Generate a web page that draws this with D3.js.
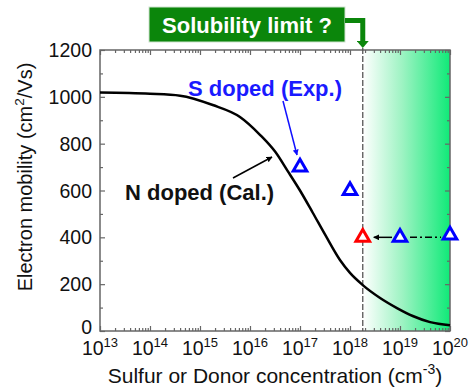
<!DOCTYPE html>
<html><head><meta charset="utf-8">
<script src="https://cdn.jsdelivr.net/npm/d3@7"></script>
<style>html,body{margin:0;padding:0;background:#fff}svg{display:block}text{font-family:"Liberation Sans",Arial,sans-serif}</style>
</head><body>
<svg id="c" width="474" height="389"></svg>
<script>
// Calculated N-doped mobility curve (concentration in cm^-3, mobility in cm2/Vs)
const curveConc = [1e13,1e14,4e14,1.8e15,6.3e15,1.6e16,3.2e16,5.6e16,1e17,1.8e17,3.2e17,6.3e17,1e18,1.8e18,4e18,8.7e18,1.8e19,4e19,1e20];
const curveMu   = [1018,1013,1005,965,914,837,765,685,600,505,410,303,248,196,141,98,64,38,25];
// Experimental S-doped points
const expConc  = [1e17, 1e18, 1e19, 1e20];
const expMu    = [700, 600, 400, 410];
// Corrected point at solubility limit
const redConc  = [1.8e18];
const redMu    = [400];
const solubilityLimit = 1.8e18;
const xTickExp = [13,14,15,16,17,18,19,20];
const yTicks   = [0,200,400,600,800,1000,1200];

const svg = d3.select("#c");
const L=100,R=450,T=50,B=331;
const x = d3.scaleLog().domain([1e13,1e20]).range([L,R]);
const y = d3.scaleLinear().domain([0,1200]).range([B,T]);

const defs = svg.append("defs");
const g = defs.append("linearGradient").attr("id","grn").attr("gradientUnits","userSpaceOnUse")
  .attr("x1",x(solubilityLimit)).attr("x2",R).attr("y1",0).attr("y2",0);
g.append("stop").attr("offset","0").attr("stop-color","#ffffff");
g.append("stop").attr("offset","0.45").attr("stop-color","#9ef3c3");
g.append("stop").attr("offset","1").attr("stop-color","#10ea78");
function mk(id,color){
  defs.append("marker").attr("id",id).attr("viewBox","0 0 10 10").attr("refX",9).attr("refY",5)
   .attr("markerWidth",6).attr("markerHeight",6).attr("orient","auto").attr("markerUnits","userSpaceOnUse")
   .append("path").attr("d","M0,0L10,5L0,10z").attr("fill",color);
}
mk("ab","#1010ff"); mk("ak","#000");
defs.append("marker").attr("id","ag").attr("viewBox","0 0 10 10").attr("refX",5).attr("refY",0)
   .attr("markerWidth",12).attr("markerHeight",7).attr("orient","0").attr("markerUnits","userSpaceOnUse").attr("preserveAspectRatio","none")
   .append("path").attr("d","M0,0L10,0L5,10z").attr("fill","#0b860b");

// green region
svg.append("rect").attr("x",x(solubilityLimit)).attr("y",T).attr("width",R-x(solubilityLimit)).attr("height",B-T).attr("fill","url(#grn)");

// axes
const axCol="#666";
const minorX=[]; for(let e=13;e<20;e++) for(let k=2;k<10;k++) minorX.push(k*Math.pow(10,e));
const minorY=d3.range(100,1200,200);
function drawAxis(axis, tr){ const a=svg.append("g").attr("transform",tr).call(axis); a.selectAll("text").remove(); a.select(".domain").remove(); a.selectAll("line").attr("stroke",axCol).attr("stroke-width",1.2); }
const maj = xTickExp.map(e=>Math.pow(10,e));
drawAxis(d3.axisBottom(x).tickValues(maj).tickSize(-5), `translate(0,${B})`);
drawAxis(d3.axisBottom(x).tickValues(minorX).tickSize(-3), `translate(0,${B})`);
drawAxis(d3.axisTop(x).tickValues(maj).tickSize(-5), `translate(0,${T})`);
drawAxis(d3.axisTop(x).tickValues(minorX).tickSize(-3), `translate(0,${T})`);
drawAxis(d3.axisLeft(y).tickValues(yTicks).tickSize(-5), `translate(${L},0)`);
drawAxis(d3.axisLeft(y).tickValues(minorY).tickSize(-3), `translate(${L},0)`);
drawAxis(d3.axisRight(y).tickValues(yTicks).tickSize(-5), `translate(${R},0)`);
drawAxis(d3.axisRight(y).tickValues(minorY).tickSize(-3), `translate(${R},0)`);
svg.append("rect").attr("x",L).attr("y",T).attr("width",R-L).attr("height",B-T).attr("fill","none").attr("stroke",axCol).attr("stroke-width",1.5);

// y tick labels
svg.append("g").selectAll("text").data(yTicks).join("text")
  .attr("x",L-8).attr("y",d=>d===0 ? y(d)+3 : y(d)+7).attr("text-anchor","end").attr("font-size",19.5).attr("fill","#111").text(d=>d);
// x tick labels
const xl = svg.append("g").selectAll("text").data(xTickExp).join("text")
  .attr("x",d=>x(Math.pow(10,d))).attr("y",355).attr("text-anchor","middle").attr("font-size",19.5).attr("fill","#111");
xl.append("tspan").text("10");
xl.append("tspan").attr("dy",-8).attr("font-size",13).text(d=>d);

// axis titles
const xt = svg.append("text").attr("x",275).attr("y",383).attr("text-anchor","middle").attr("font-size",21).attr("fill","#111");
xt.append("tspan").text("Sulfur or Donor concentration (cm");
xt.append("tspan").attr("dy",-9).attr("font-size",14).text("-3");
xt.append("tspan").attr("dy",9).text(")");
const yt = svg.append("text").attr("transform","translate(32,177) rotate(-90)").attr("text-anchor","middle").attr("font-size",20).attr("fill","#111");
yt.append("tspan").text("Electron mobility (cm");
yt.append("tspan").attr("dy",-8).attr("font-size",13.5).text("2");
yt.append("tspan").attr("dy",8).text("/Vs)");

// dashed solubility line
svg.append("line").attr("x1",x(solubilityLimit)).attr("x2",x(solubilityLimit)).attr("y1",T-2).attr("y2",B)
  .attr("stroke","#555").attr("stroke-width",1.3).attr("stroke-dasharray","6,2");

// curve
const pts = curveConc.map((c,i)=>[c,curveMu[i]]);
svg.append("path").datum(pts).attr("fill","none").attr("stroke","#000").attr("stroke-width",2.5)
  .attr("d",d3.line().x(d=>x(d[0])).y(d=>y(d[1])).curve(d3.curveMonotoneX));

// arrows between triangles
svg.append("line").attr("x1",x(expConc[2])+10).attr("x2",x(expConc[3])-9).attr("y1",y(expMu[2])).attr("y2",y(expMu[2]))
  .attr("stroke","#000").attr("stroke-width",1.5).attr("stroke-dasharray","7,3,2,3");
svg.append("line").attr("x1",x(expConc[2])-8).attr("x2",x(redConc[0])+11).attr("y1",y(redMu[0])).attr("y2",y(redMu[0]))
  .attr("stroke","#000").attr("stroke-width",1.5).attr("marker-end","url(#ak)");

// triangles
const tri = d3.symbol().type(d3.symbolTriangle).size(80);
svg.append("g").selectAll("path").data(expConc.map((c,i)=>[c,expMu[i]])).join("path")
  .attr("transform",d=>`translate(${x(d[0])},${y(d[1])})`).attr("d",tri).attr("fill","#fff").attr("stroke","#0000ff").attr("stroke-width",3);
svg.append("g").selectAll("path").data(redConc.map((c,i)=>[c,redMu[i]])).join("path")
  .attr("transform",d=>`translate(${x(d[0])},${y(d[1])})`).attr("d",tri).attr("fill","#fff").attr("stroke","#ff0000").attr("stroke-width",3);

// annotations
svg.append("text").attr("x",188).attr("y",96).attr("font-size",22).attr("font-weight","bold").attr("fill","#1a1aff").text("S doped (Exp.)");
svg.append("line").attr("x1",283).attr("y1",101).attr("x2",297).attr("y2",155).attr("stroke","#1010ff").attr("stroke-width",1.5).attr("marker-end","url(#ab)");
svg.append("text").attr("x",125).attr("y",200).attr("font-size",22).attr("font-weight","bold").attr("fill","#111").text("N doped (Cal.)");
svg.append("line").attr("x1",233).attr("y1",178).attr("x2",272).attr("y2",157).attr("stroke","#000").attr("stroke-width",1.5).attr("marker-end","url(#ak)");

// solubility label box
svg.append("rect").attr("x",149).attr("y",7).attr("width",196).attr("height",35).attr("fill","#0b860b").attr("stroke","#cfe3cf").attr("stroke-width",1);
svg.append("text").attr("x",247).attr("y",33).attr("text-anchor","middle").attr("font-size",22).attr("font-weight","bold").attr("fill","#fff").text("Solubility limit ?");
svg.append("path").attr("d",`M345,20.5H${x(solubilityLimit)}V41`).attr("fill","none").attr("stroke","#0b860b").attr("stroke-width",5).attr("marker-end","url(#ag)");
</script>
</body></html>
